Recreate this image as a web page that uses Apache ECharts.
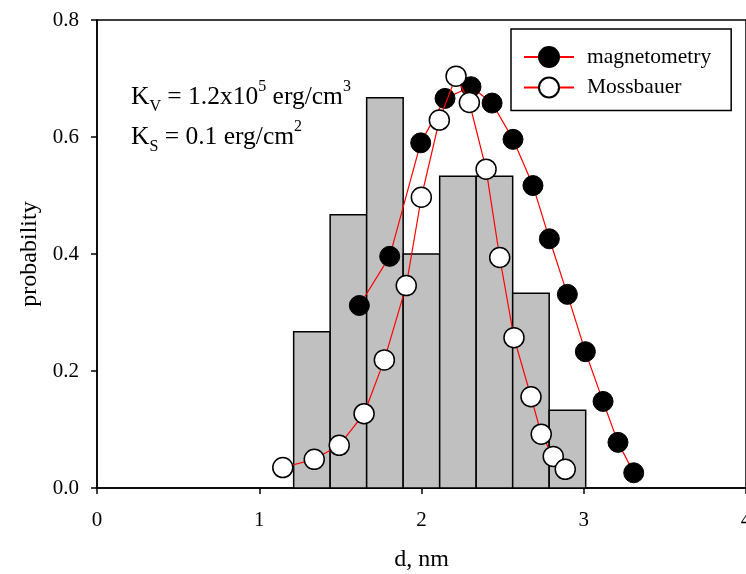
<!DOCTYPE html>
<html>
<head>
<meta charset="utf-8">
<style>
  html, body { margin: 0; padding: 0; background: #fff; }
  #chart { width: 746px; height: 574px; }
</style>
<script src="https://cdn.jsdelivr.net/npm/echarts@6/dist/echarts.min.js"></script>
</head>
<body>
<div id="chart"></div>
<script>
// Histogram bins (edges in nm) and heights
const binEdges = [1.212, 1.437, 1.662, 1.887, 2.112, 2.337, 2.562, 2.787, 3.012];
const binHeights = [0.267, 0.467, 0.667, 0.400, 0.533, 0.533, 0.333, 0.133];

// Magnetometry (filled circles)
const magX = [1.617, 1.804, 1.995, 2.145, 2.305, 2.435, 2.564, 2.687, 2.788, 2.899, 3.010, 3.119, 3.211, 3.308];
const magY = [0.312, 0.396, 0.590, 0.666, 0.686, 0.658, 0.596, 0.517, 0.426, 0.331, 0.233, 0.148, 0.078, 0.026];

// Mossbauer (open circles)
const mosX = [1.145, 1.339, 1.493, 1.646, 1.771, 1.906, 1.999, 2.110, 2.213, 2.295, 2.398, 2.482, 2.570, 2.675, 2.738, 2.812, 2.886];
const mosY = [0.035, 0.049, 0.073, 0.127, 0.219, 0.346, 0.497, 0.629, 0.704, 0.659, 0.545, 0.394, 0.257, 0.156, 0.092, 0.054, 0.032];

const xTicks = [0, 1, 2, 3, 4];
const yTicks = [0, 0.2, 0.4, 0.6, 0.8];

const FONT = "'Liberation Serif', 'Times New Roman', serif";

const histData = binHeights.map((h, i) => [binEdges[i], binEdges[i + 1], h]);
const magData = magX.map((x, i) => [x, magY[i]]);
const mosData = mosX.map((x, i) => [x, mosY[i]]);

const chart = echarts.init(document.getElementById('chart'), null, { renderer: 'canvas' });

const option = {
  animation: false,
  backgroundColor: '#fff',
  grid: {
    left: 97, right: 0, top: 20, bottom: 86,
    containLabel: false, outerBoundsMode: 'none',
    show: true, borderColor: '#000', borderWidth: 1.5, backgroundColor: 'transparent'
  },
  xAxis: {
    type: 'value',
    min: xTicks[0], max: xTicks[xTicks.length - 1], interval: 1,
    name: 'd, nm', nameLocation: 'middle', nameGap: 60,
    nameTextStyle: { fontFamily: FONT, fontSize: 24, color: '#000' },
    axisLine: { show: true, onZero: false, lineStyle: { color: '#000', width: 1.5 } },
    axisTick: { show: true, inside: false, length: 6, lineStyle: { color: '#000', width: 1.5 } },
    axisLabel: { fontFamily: FONT, fontSize: 21, color: '#000', margin: 22, showMaxLabel: true },
    splitLine: { show: false }
  },
  yAxis: {
    type: 'value',
    min: yTicks[0], max: yTicks[yTicks.length - 1], interval: 0.2,
    name: 'probability', nameLocation: 'middle', nameGap: 55, nameRotate: 90,
    nameTextStyle: { fontFamily: FONT, fontSize: 24, color: '#000' },
    axisLine: { show: true, onZero: false, lineStyle: { color: '#000', width: 1.5 } },
    axisTick: { show: true, inside: false, length: 6, lineStyle: { color: '#000', width: 1.5 } },
    axisLabel: { fontFamily: FONT, fontSize: 21, color: '#000', margin: 18,
      formatter: v => v.toFixed(1) },
    splitLine: { show: false }
  },
  legend: {
    data: ['magnetometry', 'Mossbauer'],
    orient: 'vertical',
    left: 511, top: 29,
    padding: [17, 20, 12, 12],
    itemGap: 8.5,
    itemWidth: 50, itemHeight: 25,
    borderColor: '#000', borderWidth: 1.5,
    backgroundColor: '#fff',
    textStyle: { fontFamily: FONT, fontSize: 21.5, color: '#000', padding: [0, 0, 0, 8] }
  },
  graphic: [
    {
      type: 'text', left: 131, top: 79, z: 100,
      style: {
        text: '{a|K}{sub|V}{a| = 1.2x10}{sup|5}{a| erg/cm}{sup|3}',
        rich: {
          a: { fontFamily: FONT, fontSize: 25.5, lineHeight: 36, color: '#000' },
          sub: { fontFamily: FONT, fontSize: 16, lineHeight: 16, verticalAlign: 'bottom', color: '#000' },
          sup: { fontFamily: FONT, fontSize: 16, lineHeight: 30, verticalAlign: 'top', color: '#000' }
        }
      }
    },
    {
      type: 'text', left: 131, top: 119, z: 100,
      style: {
        text: '{a|K}{sub|S}{a| = 0.1 erg/cm}{sup|2}',
        rich: {
          a: { fontFamily: FONT, fontSize: 25.5, lineHeight: 36, color: '#000' },
          sub: { fontFamily: FONT, fontSize: 16, lineHeight: 16, verticalAlign: 'bottom', color: '#000' },
          sup: { fontFamily: FONT, fontSize: 16, lineHeight: 30, verticalAlign: 'top', color: '#000' }
        }
      }
    }
  ],
  series: [
    {
      type: 'custom',
      name: 'hist',
      data: histData,
      encode: { x: [0, 1], y: 2 },
      z: 1,
      renderItem: function (params, api) {
        const p0 = api.coord([api.value(0), api.value(2)]);
        const p1 = api.coord([api.value(1), 0]);
        return {
          type: 'rect',
          shape: { x: p0[0], y: p0[1], width: p1[0] - p0[0], height: p1[1] - p0[1] },
          style: { fill: '#c0c0c0', stroke: '#000', lineWidth: 1.5 }
        };
      }
    },
    {
      type: 'line',
      name: 'magnetometry',
      data: magData,
      z: 3,
      symbol: 'circle', symbolSize: 20,
      lineStyle: { color: '#ff0000', width: 1.2 },
      itemStyle: { color: '#000', borderColor: '#000', borderWidth: 1 }
    },
    {
      type: 'line',
      name: 'Mossbauer',
      data: mosData,
      z: 4,
      symbol: 'circle', symbolSize: 20,
      lineStyle: { color: '#ff0000', width: 1.2 },
      itemStyle: { color: '#fff', borderColor: '#000', borderWidth: 1.5 }
    }
  ]
};

chart.setOption(option);
</script>
</body>
</html>
